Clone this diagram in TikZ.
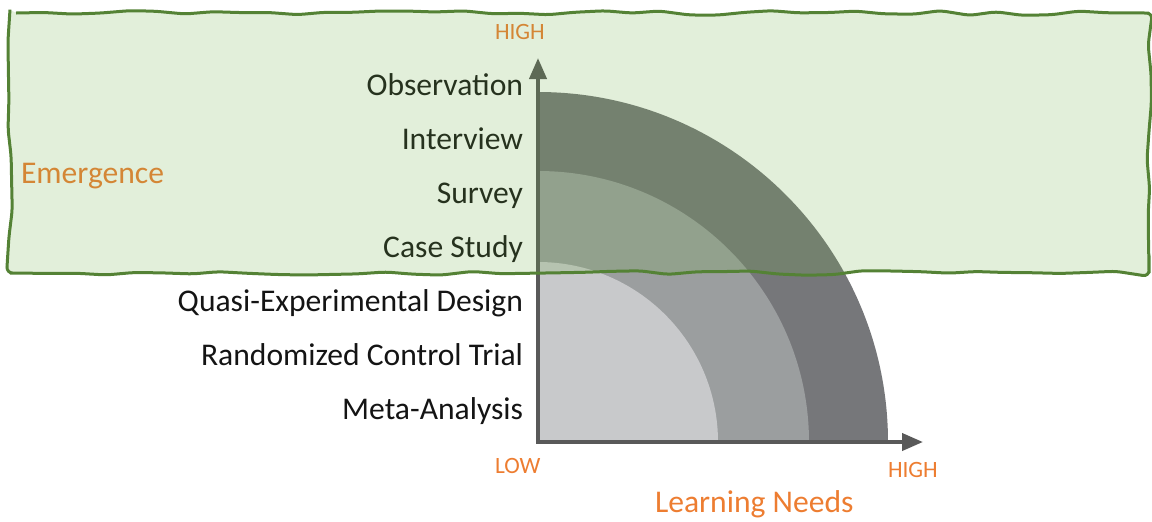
\documentclass[tikz,border=0pt]{standalone}
\usepackage{fontspec}
\setmainfont{Carlito}
\usetikzlibrary{arrows.meta,decorations.pathmorphing}
\definecolor{axisgray}{HTML}{595959}
\definecolor{ringout}{HTML}{76777A}
\definecolor{ringmid}{HTML}{9B9E9F}
\definecolor{ringin}{HTML}{C8C9CB}
\definecolor{accent}{HTML}{ED7D31}
\definecolor{leafgreen}{HTML}{70AD47}
\definecolor{edgegreen}{HTML}{548235}
\tikzset{
  every node/.style={
    inner sep=0pt,
    outer sep=0pt
  },
  method/.style={
    anchor=base east,
    text=black!92,
    font=\fontsize{15.8}{19}\selectfont
  },
  level/.style={
    anchor=base west,
    text=accent,
    font=\fontsize{11.7}{14}\selectfont
  },
  heading/.style={
    anchor=base west,
    text=accent,
    font=\fontsize{15.8}{19}\selectfont
  },
  axis/.style={
    draw=axisgray,
    line width=2pt,
    line join=miter,
    {Triangle[length=10.5pt,width=8.5pt]}-{Triangle[length=10.5pt,width=8.5pt]}
  },
  wobbly box/.style={
    fill=leafgreen,
    fill opacity=0.2,
    draw=edgegreen,
    line width=1.5pt,
    rounded corners=3pt,
    decorate,
    decoration={random steps,segment length=14pt,amplitude=1.2pt}
  }
}

\begin{document}
\begin{tikzpicture}[x=0.5pt,y=-0.5pt]
  \pgfmathsetseed{7}
  \useasboundingbox (0,0) rectangle (1152,521);

  % quarter rings, largest first
  \coordinate (origin) at (538,442);
  \coordinate (ytop) at (538,58);
  \coordinate (xend) at (923,442);
  \fill[ringout] (origin) -- ++(350,0) arc[start angle=0,end angle=-90,radius=350] -- cycle;
  \fill[ringmid] (origin) -- ++(271,0) arc[start angle=0,end angle=-90,radius=271] -- cycle;
  \fill[ringin]  (origin) -- ++(180,0) arc[start angle=0,end angle=-90,radius=180] -- cycle;

  % axes
  \draw[axis] (ytop) -- (origin) -- (xend);

  % methods along the vertical axis
  \node[method] (obs)    at (523,95)  {Observation};
  \node[method] (interv) at (523,149) {Interview};
  \node[method] (survey) at (523,203) {Survey};
  \node[method] (case)   at (523,257) {Case Study};
  \node[method] (quasi)  at (523,311) {Quasi-Experimental Design};
  \node[method] (rct)    at (523,365) {Randomized Control Trial};
  \node[method] (meta)   at (523,419) {Meta-Analysis};

  % axis ends and titles
  \node[level] (yhigh) at (495,39)  {HIGH};
  \node[level] (xlow)  at (495,473) {LOW};
  \node[level] (xhigh) at (888,477) {HIGH};
  \node[heading] (emerg) at (21,183)  {Emergence};
  \node[heading] (needs) at (655,512) {Learning Needs};

  % translucent band on top
  \draw[wobbly box] (10,13) -- (1149,13) -- (1149,273) -- (10,273) -- cycle;
\end{tikzpicture}
\end{document}
